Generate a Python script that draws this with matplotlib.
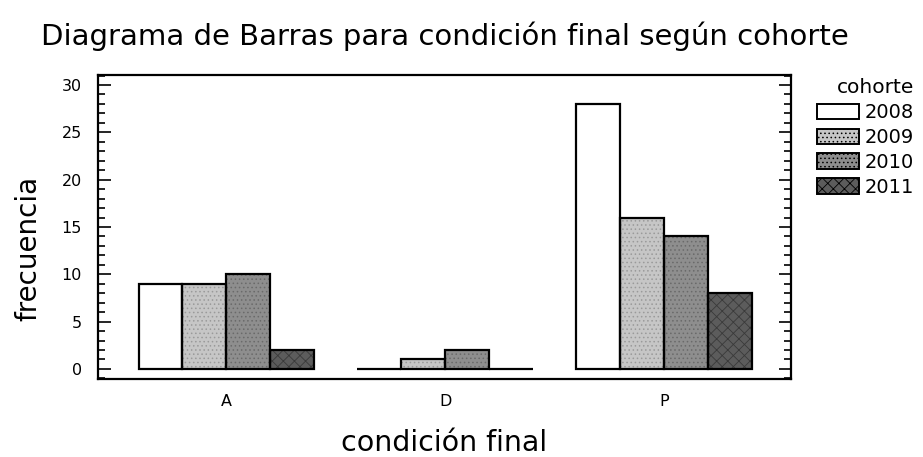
import numpy as np
import matplotlib
matplotlib.use("Agg")
from matplotlib import pyplot as plt
from matplotlib.ticker import MultipleLocator

plt.rcParams['font.family'] = ['DejaVu Sans']
plt.rcParams['hatch.linewidth'] = 0.6

# data
categorias = ["A", "D", "P"]
cohortes = ["2008", "2009", "2010", "2011"]
frec_2008 = [9, 0, 28]
frec_2009 = [9, 1, 16]
frec_2010 = [10, 2, 14]
frec_2011 = [2, 0, 8]
series = [frec_2008, frec_2009, frec_2010, frec_2011]

colores = ["white", "#c6c6c6", "#8e8e8e", "#5c5c5c"]
hatch_col = ["white", "#9a9a9a", "#6a6a6a", "#3a3a3a"]
hatches = [None, "....", "....", "xxx"]

fig = plt.figure(figsize=(9.23, 4.57), dpi=100)
ax = fig.add_axes([0.1062, 0.1707, 0.7508, 0.6652])

x = np.arange(len(categorias))
w = 0.2
handles = []
for i, vals in enumerate(series):
    pos = x + (i - 1.5) * w
    # relleno con trama
    ax.bar(pos, vals, w, color=colores[i], hatch=hatches[i],
           edgecolor=hatch_col[i], linewidth=0, zorder=2)
    # contorno
    ax.bar(pos, vals, w, fill=False, edgecolor="black", linewidth=1.6, zorder=3)
    h = plt.Rectangle((0, 0), 1, 1, facecolor=colores[i], hatch=hatches[i],
                      edgecolor="black", linewidth=1.4)
    handles.append(h)

ax.set_xlim(-0.585, 2.58)
ax.set_ylim(-1.06, 31.06)
ax.set_xticks(x)
ax.set_xticklabels(categorias, fontsize=11.5)
ax.tick_params(axis='x', length=0, pad=11)
ax.yaxis.set_major_locator(MultipleLocator(5))
ax.yaxis.set_minor_locator(MultipleLocator(1))
ax.tick_params(axis='y', which='major', direction='in', length=9, width=1.2,
               left=True, right=True, labelsize=11.5, pad=11.5)
ax.tick_params(axis='y', which='minor', direction='in', length=5, width=1.2,
               left=True, right=True)
for s in ax.spines.values():
    s.set_linewidth(1.6)

ax.set_ylabel("frecuencia", fontsize=20, labelpad=11)
ax.yaxis.set_label_coords(-0.081, 0.43)
ax.set_xlabel("condición final", fontsize=20.5, labelpad=14)
fig.text(0.482, 0.92, "Diagrama de Barras para condición final según cohorte",
         ha='center', va='center', fontsize=21)

leg = fig.legend(handles, cohortes, title="cohorte", loc='upper left',
                 bbox_to_anchor=(0.885, 0.8285), frameon=False, fontsize=14,
                 title_fontsize=14.5, handlelength=2.15, handleheight=0.85,
                 handletextpad=0.3, labelspacing=0.3, borderpad=0,
                 borderaxespad=0)
leg._legend_box.align = "right"

fig.savefig("out.png", dpi=100)
